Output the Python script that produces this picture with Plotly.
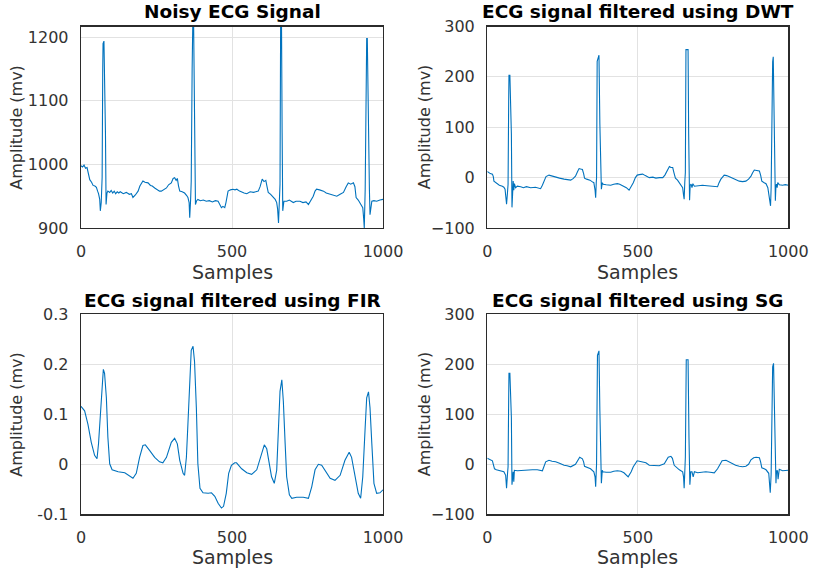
import plotly.graph_objects as go

# ---------------- data ----------------
noisy_x = [0, 5, 10, 15, 20, 25, 29, 35, 40, 46, 51, 55, 58, 62, 64, 67, 70, 72, 73, 76, 78, 80, 81, 83, 86, 89,
           95, 100, 105, 110, 115, 120, 125, 130, 140, 150, 160, 167, 172, 180, 189, 195, 205, 212, 222, 230, 236,
           244, 252, 260, 266, 272, 283, 290, 299, 305, 310, 315, 319, 323, 327, 335, 343, 350, 354, 358, 360, 363,
           365, 368, 370, 373, 375, 377, 379, 383, 387, 395, 405, 415, 425, 435, 445, 454, 460, 465, 470, 476, 480,
           487, 495, 503, 510, 516, 525, 532, 540, 549, 560, 571, 580, 587, 593, 600, 606, 612, 616, 620, 628, 637,
           643, 648, 651, 654, 657, 659, 661, 664, 666, 668, 670, 672, 681, 690, 703, 712, 725, 735, 745, 753, 760,
           769, 775, 780, 790, 803, 812, 825, 835, 847, 858, 869, 878, 885, 893, 902, 907, 911, 918, 924, 930, 933,
           936, 938, 941, 944, 946, 948, 950, 953, 955, 957, 960, 963, 970, 979, 990, 1000]
noisy_y = [998, 996, 999, 994, 995, 985, 976, 972, 967, 966, 964, 958, 954, 945, 927, 940, 980, 1150, 1190, 1194,
           1140, 1060, 1050, 937, 955, 958, 956, 959, 955, 958, 954, 957, 955, 957, 954, 956, 953, 954, 948, 952,
           958, 966, 974, 972, 971, 967, 966, 963, 961, 958, 958, 960, 963, 968, 971, 978, 979, 975, 978, 966, 958,
           957, 955, 951, 948, 940, 916, 945, 974, 1150, 1217, 1217, 1060, 1000, 937, 943, 945, 943, 944, 942, 943,
           941, 943, 942, 937, 932, 934, 932, 940, 958, 960, 961, 960, 961, 958, 956, 955, 954, 957, 956, 957, 958,
           965, 977, 973, 975, 965, 956, 953, 948, 945, 940, 930, 908, 940, 969, 1217, 1217, 1050, 927, 935, 942,
           942, 944, 940, 942, 942, 940, 941, 937, 942, 950, 958, 961, 960, 958, 955, 953, 952, 950, 953, 956, 965,
           971, 969, 971, 965, 948, 944, 940, 935, 932, 915, 900, 960, 1150, 1198, 1198, 1100, 1033, 960, 921, 935,
           942, 943, 942, 944, 945]

dwt_x = [0, 5, 10, 17, 20, 22, 28, 33, 40, 50, 55, 59, 62, 64, 67, 69, 71, 72, 75, 78, 80, 82, 84, 86, 88, 90, 94,
         100, 111, 120, 130, 144, 160, 177, 183, 188, 195, 205, 215, 227, 240, 255, 265, 277, 285, 293, 300, 305,
         310, 316, 320, 323, 330, 341, 348, 354, 358, 360, 362, 363, 365, 368, 371, 374, 376, 379, 382, 385, 395,
         410, 420, 432, 440, 454, 462, 471, 478, 485, 492, 498, 505, 516, 525, 538, 550, 560, 572, 583, 590, 596,
         600, 605, 610, 616, 620, 625, 632, 638, 644, 649, 652, 654, 656, 658, 660, 663, 667, 669, 672, 674, 677,
         680, 683, 688, 700, 715, 730, 749, 765, 770, 776, 787, 795, 810, 825, 837, 848, 859, 868, 876, 882, 887,
         895, 904, 908, 912, 920, 926, 932, 937, 941, 943, 946, 948, 950, 953, 955, 957, 959, 961, 963, 965, 970,
         981, 990, 1000]
dwt_y = [12, 10, 8, 7, 2, -7, -10, -13, -15, -17, -19, -23, -35, -53, -30, -13, 150, 203, 203, 150, 86, -59, -20,
         -7, -25, -12, -20, -17, -18, -20, -18, -20, -19, -22, -15, -7, 2, 5, 3, 1, -1, -3, -4, -5, -2, 3, 12, 18,
         17, 16, 8, -1, -3, -5, -8, -10, -25, -40, -10, 0, 231, 240, 243, 106, 50, -23, -10, -13, -14, -15, -13,
         -12, -13, -17, -20, -25, -18, -10, 0, 5, 6, 7, 4, 0, 1, -1, 0, 0, 5, 13, 18, 22, 20, 20, 10, -1, -5, -10,
         -15, -20, -35, -43, -10, 10, 254, 254, 254, 86, -45, -15, -13, -20, -12, -17, -16, -15, -16, -17, -18,
         -10, -3, 5, 4, 0, -4, -7, -8, -7, -3, 3, 10, 15, 14, 13, 5, -7, -10, -12, -20, -40, -56, -20, 182, 230,
         240, 79, 20, -46, -15, -13, -20, -10, -14, -15, -14, -15]

fir_x = [0, 12, 23, 34, 45, 53, 58, 64, 70, 74, 78, 84, 89, 95, 103, 123, 145, 161, 172, 183, 194, 205, 213, 227,
         244, 260, 271, 283, 299, 310, 319, 327, 338, 343, 349, 354, 360, 365, 371, 376, 382, 387, 394, 404, 421,
         432, 443, 454, 465, 472, 481, 489, 498, 509, 515, 532, 549, 565, 582, 598, 607, 615, 624, 631, 640, 648,
         654, 659, 665, 670, 676, 681, 690, 698, 714, 736, 753, 764, 775, 786, 797, 808, 825, 841, 858, 874, 888,
         896, 907, 918, 926, 933, 941, 946, 952, 957, 963, 970, 979, 990, 1000]
fir_y = [0.116, 0.107, 0.080, 0.044, 0.018, 0.011, 0.041, 0.107, 0.159, 0.190, 0.182, 0.133, 0.054, 0.001, -0.011,
         -0.015, -0.017, -0.024, -0.028, -0.018, 0.014, 0.0375, 0.039, 0.028, 0.014, 0.005, 0.003, 0.014, 0.044,
         0.052, 0.041, 0.008, -0.018, -0.022, 0.014, 0.080, 0.172, 0.228, 0.236, 0.205, 0.113, 0.001, -0.048,
         -0.057, -0.058, -0.057, -0.064, -0.078, -0.0875, -0.084, -0.058, -0.018, -0.002, 0.003, 0.003, -0.009,
         -0.017, -0.020, -0.011, 0.021, 0.039, 0.031, 0.001, -0.025, -0.038, -0.012, 0.074, 0.146, 0.169, 0.126,
         0.041, -0.025, -0.061, -0.068, -0.066, -0.066, -0.068, -0.045, -0.011, 0.0, -0.002, -0.012, -0.028,
         -0.032, -0.022, 0.008, 0.024, 0.014, -0.025, -0.058, -0.068, -0.025, 0.074, 0.133, 0.145, 0.113, 0.041,
         -0.038, -0.058, -0.057, -0.051]

sg_x = [0, 5, 10, 17, 20, 24, 30, 39, 48, 55, 61, 64, 67, 69, 71, 72, 75, 78, 80, 82, 84, 86, 88, 90, 100, 115, 133,
        150, 166, 183, 194, 205, 215, 227, 240, 255, 265, 277, 293, 300, 307, 316, 320, 323, 333, 343, 354, 358, 360,
        363, 366, 368, 371, 374, 376, 379, 382, 384, 395, 410, 420, 432, 444, 454, 468, 478, 485, 492, 498, 505,
        516, 527, 538, 555, 571, 588, 595, 601, 610, 615, 621, 630, 638, 649, 652, 654, 656, 658, 661, 664, 667,
        670, 673, 676, 680, 684, 688, 699, 712, 726, 740, 754, 765, 772, 780, 793, 805, 815, 825, 837, 848, 859,
        868, 876, 885, 893, 904, 908, 912, 920, 926, 935, 940, 943, 946, 948, 951, 955, 957, 959, 961, 964, 966,
        970, 981, 990, 1000]
sg_y = [12, 10, 8, 7, 0, -9, -11, -13, -14, -15, -22, -48, -20, -5, 130, 182, 182, 140, 93, -41, -20, -15, -35, -12,
        -13, -12, -12, -11, -11, -13, 5, 8, 6, 5, 2, -2, -3, -5, 0, 8, 14, 11, 5, -4, -7, -9, -15, -25, -45, 1, 218,
        224, 227, 107, 50, -38, -12, -15, -16, -16, -14, -13, -14, -17, -25, -15, -5, 2, 7, 6, 5, 3, -2, -3, -3, 1,
        8, 14, 16, 12, -2, -7, -11, -15, -25, -48, -10, 14, 209, 209, 209, 54, -41, -15, -15, -25, -15, -17, -16,
        -15, -16, -17, -9, 0, 7, 8, 4, 0, -2, -4, -5, -4, 0, 9, 13, 14, 13, 5, -7, -9, -11, -18, -57, -20, 189,
        195, 202, 93, 20, -38, -13, -13, -30, -10, -13, -13, -12, -12]

titles = ["Noisy ECG Signal", "ECG signal filtered using DWT",
          "ECG signal filtered using FIR", "ECG signal filtered using SG"]
x_label = "Samples"
y_label = "Amplitude (mv)"
x_ticks = [0, 500, 1000]
y_ticks_noisy = [900, 1000, 1100, 1200]
y_ticks_dwt = [-100, 0, 100, 200, 300]
y_ticks_fir = [-0.1, 0, 0.1, 0.2, 0.3]
y_ticks_sg = [-100, 0, 100, 200, 300]
y_tick_text_fir = ["-0.1", "0", "0.1", "0.2", "0.3"]

# ---------------- figure ----------------
W, H = 813, 571
LINE = "#0072BD"
FONT = "DejaVu Sans"


def px_x(p):
    return p / W


def px_y(p):
    return 1 - p / H


col_dom = [[px_x(81), px_x(383)], [px_x(487.3), px_x(788.3)]]
row_dom = [[px_y(228), px_y(26.5)], [px_y(514.3), px_y(314.3)]]

fig = go.Figure()
series = [(noisy_x, noisy_y), (dwt_x, dwt_y), (fir_x, fir_y), (sg_x, sg_y)]
for i, (xs, ys) in enumerate(series):
    sfx = "" if i == 0 else str(i + 1)
    fig.add_trace(go.Scatter(x=xs, y=ys, mode="lines", line=dict(color=LINE, width=1.1),
                             xaxis="x" + sfx, yaxis="y" + sfx, showlegend=False, hoverinfo="skip"))

common = dict(showgrid=True, gridcolor="#e2e2e2", gridwidth=1, showline=True, mirror=True,
              linecolor="#2b2b2b", linewidth=1.3, zeroline=False, ticks="", automargin=False,
              tickfont=dict(family=FONT, size=16, color="#333333"))

y_specs = [
    dict(range=[900, 1217], tickvals=y_ticks_noisy),
    dict(range=[-100, 300], tickvals=y_ticks_dwt),
    dict(range=[-0.1, 0.3], tickvals=y_ticks_fir, ticktext=y_tick_text_fir),
    dict(range=[-100, 300], tickvals=y_ticks_sg),
]

layout = dict(width=W, height=H, autosize=False, margin=dict(l=0, r=0, t=0, b=0, pad=0, autoexpand=False),
              paper_bgcolor="white", plot_bgcolor="white", showlegend=False, hovermode=False)
for i in range(4):
    r, c = divmod(i, 2)
    sfx = "" if i == 0 else str(i + 1)
    layout["xaxis" + sfx] = dict(common, domain=col_dom[c], range=[0, 1000], tickvals=x_ticks,
                                 anchor="y" + sfx, ticklabelstandoff=8)
    layout["yaxis" + sfx] = dict(common, domain=row_dom[r], anchor="x" + sfx, ticklabelstandoff=8,
                                 **y_specs[i])
fig.update_layout(**layout)

annotations = []
title_cy = [12, 300]
xlab_cy = [271.5, 557]
ylab_cx = [16.5, 424]
for i in range(4):
    r, c = divmod(i, 2)
    cx = (col_dom[c][0] + col_dom[c][1]) / 2
    cy = (row_dom[r][0] + row_dom[r][1]) / 2
    annotations.append(dict(text="<b>" + titles[i] + "</b>", x=cx, y=px_y(title_cy[r]), xref="paper", yref="paper",
                            xanchor="center", yanchor="middle", showarrow=False,
                            font=dict(family=FONT, size=18.5, color="#000000")))
    annotations.append(dict(text=x_label, x=cx, y=px_y(xlab_cy[r]), xref="paper", yref="paper",
                            xanchor="center", yanchor="middle", showarrow=False,
                            font=dict(family=FONT, size=19, color="#333333")))
    annotations.append(dict(text=y_label, x=px_x(ylab_cx[c]), y=cy, xref="paper", yref="paper",
                            xanchor="center", yanchor="middle", showarrow=False, textangle=-90,
                            font=dict(family=FONT, size=16, color="#333333")))
fig.update_layout(annotations=annotations)

fig.write_html("out.html", config={"responsive": False, "displayModeBar": False, "staticPlot": True},
               post_script="document.body.style.margin='0';")
